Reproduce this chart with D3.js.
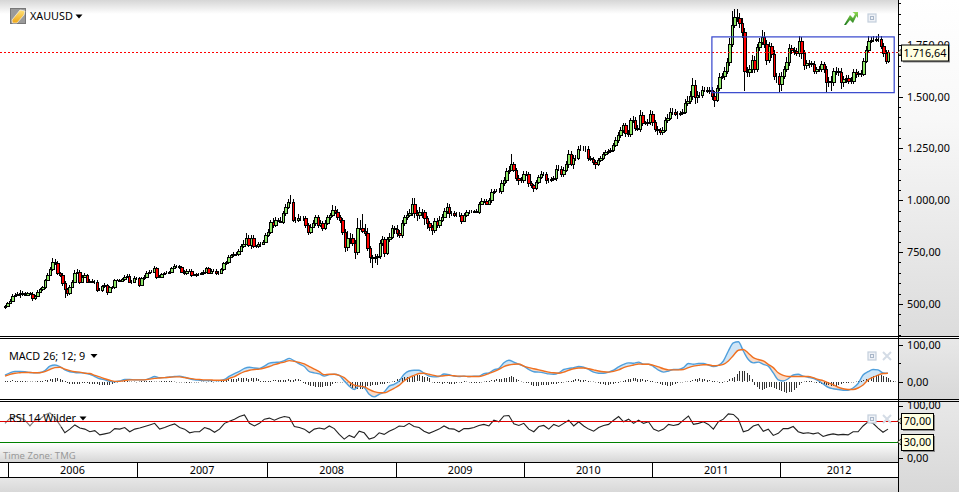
<!DOCTYPE html>
<html>
<head>
<meta charset="utf-8">
<title>XAUUSD</title>
<script src="https://cdn.jsdelivr.net/npm/d3@7"></script>
<style>
html, body { margin: 0; padding: 0; background: #fff; }
svg { display: block; }
text { font-family: "Noto Sans", Tahoma, sans-serif; font-size: 10.8px; fill: #000; }
</style>
</head>
<body>
<div id="chart"></div>
<script>
'use strict'
/* Weekly candles */
var closes = [
490,503,516,538,545,548,554,548,543,551,548,527,538,559,570,580,615,639,666,703,698,647,639,599,570,554,583,607,650,655,
607,631,639,607,612,607,607,567,567,586,591,559,580,580,615,615,612,618,631,636,607,607,626,623,591,623,631,650,655,655,
671,631,631,644,647,650,654,671,682,682,676,655,647,660,660,639,639,642,644,647,655,671,650,660,660,647,650,666,695,700,
727,734,740,740,756,778,791,820,783,820,778,778,788,790,800,832,848,896,880,904,901,896,936,965,992,992,904,907,912,912,
912,880,848,872,891,917,880,891,864,891,917,928,955,944,920,904,848,776,816,820,792,752,864,864,853,843,768,724,720,724,
731,792,811,747,811,824,864,859,840,832,888,917,928,936,984,936,928,944,944,912,888,872,856,901,880,907,920,949,968,936,
936,928,931,928,901,928,944,944,944,947,944,984,997,997,984,1000,1040,1045,1045,1045,1083,1096,1141,1147,1173,1147,1109,1100,1096,1128,
1128,1083,1072,1061,1088,1112,1125,1125,1096,1100,1104,1109,1152,1152,1125,1147,1173,1224,1173,1205,1205,1249,1249,1249,1249,1205,1200,1184,1173,1192,
1205,1221,1232,1237,1240,1265,1289,1313,1340,1361,1324,1321,1385,1388,1350,1345,1409,1372,1372,1377,1417,1377,1345,1337,1329,1340,1385,1398,1425,1425,
1417,1417,1420,1425,1468,1481,1505,1558,1497,1510,1510,1532,1532,1529,1532,1505,1484,1542,1593,1597,1622,1665,1753,1846,1882,1879,1853,1810,1625,1617,
1633,1677,1633,1737,1761,1789,1753,1677,1745,1705,1597,1597,1561,1601,1633,1665,1734,1725,1718,1709,1770,1709,1654,1661,1661,1657,1625,1633,1633,1657,
1633,1569,1577,1569,1622,1625,1617,1569,1585,1590,1577,1577,1617,1609,1612,1609,1673,1725,1770,1773,1773,1778,1778,1745,1709,1673,1716
];
var wickUp = [
6,5,6,8,7,8,14,6,7,8,7,8,6,8,6,7,6,8,10,16,12,8,8,10,10,8,9,9,12,14,
10,8,8,7,9,8,7,8,8,7,8,7,8,7,6,6,6,8,7,10,8,6,9,6,8,7,7,8,7,8,
11,7,8,6,6,7,6,5,8,6,7,7,8,6,7,8,7,6,6,7,6,8,9,8,7,7,8,6,8,8,
7,6,8,9,8,10,16,20,12,10,14,8,12,10,8,8,12,10,16,14,12,16,10,18,14,32,16,14,20,14,
14,12,10,12,14,12,10,14,8,12,14,12,20,16,14,10,10,14,36,22,18,16,51,40,68,30,22,12,14,16,
10,14,18,12,14,16,18,14,20,14,16,14,18,22,28,26,16,24,14,10,12,14,10,12,14,16,12,14,18,12,
12,10,12,10,8,10,10,8,10,8,10,8,12,10,8,10,14,10,8,12,16,18,14,18,52,12,10,12,10,14,
12,10,10,8,10,12,14,10,12,8,10,10,16,20,12,12,14,20,14,14,12,14,16,12,14,14,10,8,10,10,
10,10,8,10,10,12,14,16,12,14,12,16,14,20,12,12,26,16,12,14,16,14,10,12,10,14,16,18,20,18,
14,12,12,16,18,20,24,30,24,18,12,20,16,14,16,14,20,14,20,18,22,20,28,68,40,40,26,24,20,18,
20,22,18,16,22,30,24,20,16,14,18,16,18,20,16,24,18,16,14,16,24,16,14,16,14,12,14,12,14,16,
12,14,16,24,18,16,14,20,14,16,14,16,16,14,12,14,14,20,22,14,18,16,22,14,14,16,10
];
var wickDown = [
11,5,6,5,7,7,20,8,7,6,7,14,9,6,7,8,7,6,6,8,10,8,9,12,40,16,9,8,8,8,
12,7,8,8,6,7,10,8,7,8,9,14,8,7,6,6,8,6,6,7,8,10,8,9,8,7,7,6,6,7,
8,12,7,8,6,5,6,6,5,7,6,6,7,8,6,8,6,7,7,6,6,6,8,6,7,7,6,6,7,7,
8,6,7,7,8,6,7,9,8,16,8,8,10,12,8,8,10,10,12,10,8,8,12,10,8,8,10,14,10,12,
12,14,16,10,8,14,12,10,14,8,10,10,10,12,14,12,16,24,20,28,14,36,14,10,12,16,14,28,48,22,
35,14,12,20,12,14,10,24,16,14,12,10,10,8,12,24,28,18,30,30,26,20,24,16,14,12,10,8,14,20,
10,8,10,10,14,8,8,10,6,8,8,10,6,8,8,8,12,8,6,10,14,12,14,16,8,10,16,26,14,12,
12,18,14,20,14,12,10,8,16,12,10,10,14,10,12,14,12,16,10,20,14,12,10,10,16,14,10,12,20,8,
8,10,10,8,8,8,10,12,12,14,18,14,18,10,16,12,14,12,10,12,14,18,16,22,14,12,10,12,10,14,
12,24,12,10,10,14,16,22,32,26,16,18,12,14,16,22,34,12,14,10,16,14,18,12,14,18,20,26,99,24,
22,20,18,14,16,14,20,24,16,20,18,30,40,36,14,12,16,20,16,14,20,26,24,20,22,14,16,14,12,16,
18,48,22,43,18,16,20,30,24,20,16,16,14,18,16,14,12,10,14,10,12,12,16,14,16,14,10
];
var firstOpen = 485;
var lastPrice = 1716.64;
var boxPrices = [1519, 1788];
var boxWeeks = [285, 358.5];

/* MACD lines, one reading every two weeks */
var macdLine = [
18,24,28,28,27,25,24,25,30,42,45,41,32,27,25,24,23,20,14,8,5,1,0,2,6,6,5,5,5,9,14,11,11,13,14,15,12,8,5,4,3,3,3,3,6,15,22,28,36,39,37,36,42,50,52,53,57,63,56,48,41,27,24,21,
15,19,20,17,2,-12,-21,-12,-16,-34,-41,-34,-28,-12,-7,2,20,29,31,31,23,15,13,14,21,19,15,14,15,14,15,
15,22,24,32,36,51,58,53,47,42,33,27,26,24,21,20,24,33,36,38,41,39,33,26,23,23,26,31,40,47,51,50,53,
47,47,41,31,26,29,33,33,38,49,47,49,49,45,41,44,56,83,105,108,83,60,51,53,47,42,24,5,2,8,18,20,15,
12,9,3,-6,-15,-19,-21,-23,-23,-17,-5,18,27,33,32,24,23
];
var macdSignal = [
15,20,23,24,25,25,24,24,27,33,38,39,34,30,27,26,23,22,17,13,8,4,1,1,3,5,5,5,5,7,9,10,11,12,13,13,11,9,7,6,5,5,4,4,4,9,14,21,27,31,33,34,37,41,46,50,53,57,55,52,48,41,34,27,
19,20,20,17,11,-1,-9,-12,-14,-21,-27,-30,-30,-25,-18,-10,2,11,17,22,23,20,17,15,16,17,16,15,15,14,14,
14,17,22,27,33,41,45,47,48,42,38,35,32,29,26,24,23,26,31,35,37,37,35,32,29,27,26,28,32,38,42,45,48,
47,47,44,40,35,32,32,32,33,38,42,44,46,46,43,44,47,56,71,85,87,77,65,60,56,47,38,24,17,14,14,14,14,
14,11,6,3,-3,-8,-15,-19,-21,-21,-17,-9,5,12,18,22,23
];
/* MACD histogram, one bar per week */
var macdHist = [
3,3,3,4,3,3,3,2,2,1,1,1,1,2,2,3,4,5,6,8,10,9,8,5,3,-2,-5,-6,-6,-5,-5,-4,-4,-4,-5,-5,-6,-6,-7,-7,-8,-8,-7,-5,-3,-1,
1,1,2,2,1,1,1,0,1,2,2,3,3,2,1,1,1,2,2,3,3,2,1,0,-1,-1,-1,-2,-2,-1,-1,0,0,1,1,0,1,2,0,1,1,2,
3,5,6,7,8,8,9,10,10,9,8,9,11,
9,6,3,2,2,3,3,4,4,5,5,5,5,6,5,5,6,6,4,
-4,-6,-8,-10,-12,-14,-14,-13,-13,-12,-12,-10,-6,-3,-1,-1,0,1,0,-10,-16,-18,-20,-19,-18,-14,-12,-10,-9,-8,-7,-6,-5,-5,-3,-1,1,3,
6,8,10,12,13,14,15,16,17,17,16,14,12,10,-1,-2,-3,-4,-5,-3,-2,-5,-6,-5,-3,-1,-2,2,1,-1,-2,-3,-3,-2,-1,
1,3,3,4,5,6,7,8,10,11,13,15,14,8,4,1,-1,-2,-4,-7,-10,-12,-11,-9,-8,-7,-7,-6,-6,-5,-4,-3,-1,
1,2,3,5,6,6,5,5,4,2,1,1,0,-3,-5,-6,-7,-7,-6,-5,-4,-2,1,3,5,7,8,9,9,8,7,6,5,4,3,2,
-1,-2,-5,-8,-9,-11,-10,-9,-6,-3,-1,0,1,1,2,4,6,8,9,8,6,5,4,3,2,1,-2,-4,1,
3,6,9,14,20,28,29,28,24,17,8,-8,-14,-19,-22,-20,-17,-14,-14,-16,-20,-22,-24,-28,-30,-28,-26,-22,-15,-8,-3,1,2,3,2,-1,-2,-4,
-6,-7,-8,-9,-10,-12,-14,-8,-6,-4,-3,-2,-1,-1,1,2,3,4,6,8,12,15,18,19,18,16,14,10,5,3,1
];
/* RSI 14, one reading every two weeks */
var rsiValues = [
66,76,80,77,72,61,72,74,82,86,77,63,48,55,63,57,55,50,52,44,46,48,56,55,58,50,55,57,60,63,66,55,58,62,65,58,55,48,50,50,58,55,49,55,66,70,74,79,82,66,61,66,74,76,72,76,79,77,60,58,55,48,55,57,
55,61,56,45,36,43,39,51,48,36,39,48,45,51,55,61,60,66,60,58,51,47,51,55,61,56,55,50,56,56,58,
62,64,61,72,69,80,81,65,62,66,55,50,60,62,55,64,60,66,72,61,69,61,55,51,58,62,64,72,79,69,74,66,72,
66,69,55,51,55,64,62,64,72,80,64,66,69,64,55,69,74,84,83,74,50,53,61,64,51,55,43,47,56,56,60,50,47,
48,46,48,41,44,46,44,45,44,50,50,61,69,66,57,49,55
];
var rsiLevels = [30, 70];

var yearLabels = ['2006', '2007', '2008', '2009', '2010', '2011', '2012'];
var yearStarts = [1.2, 53.2, 105.7, 157.7, 209.3, 261, 312.6];
var priceMajor = [500, 750, 1000, 1250, 1500, 1750];
var priceMinor = d3.range(350, 2000, 50);

/* Medidas */
var w = 959;
var h = 492;
var plotRight = 898;

var priceFmt = d3.formatLocale({decimal: ',', thousands: '.', grouping: [3], currency: ['', '']}).format(',.2f');

var x = d3.scaleLinear().domain([0, closes.length - 1]).range([5, 888]);
var yPrice = d3.scaleLinear().domain([345, 1966]).range([336, 0]);
var yMacd = d3.scaleLinear().domain([0, 100]).range([381.7, 344.7]);
var yRsi = d3.scaleLinear().domain([0, 100]).range([458, 405.5]);
// lineas muestreadas cada dos semanas
var xMacd = d3.scaleLinear().domain([0, macdLine.length - 1]).range([5, 888]);
var xRsi = d3.scaleLinear().domain([0, rsiValues.length - 1]).range([5, 888]);

var svg = d3.select('#chart').append('svg').attr('width', w).attr('height', h);
var defs = svg.append('defs');

function gradient(id, stops) {
	var g = defs.append('linearGradient').attr('id', id)
		.attr('x1', 0).attr('y1', 0).attr('x2', 0).attr('y2', 1);
	stops.forEach((s) => {
		g.append('stop').attr('offset', s[0]).attr('stop-color', s[1]);
	});
}
gradient('gTop', [[0, '#d6d6d6'], [1, '#ffffff']]);
gradient('gBottom', [[0, '#ffffff'], [1, '#d6d6d6']]);
gradient('gFoot', [[0, '#e8e8e8'], [1, '#d8d8d8']]);
gradient('gAxisMain', [[0, '#ffffff'], [0.35, '#f8f8f8'], [1, '#dcdcdc']]);
gradient('gAxisLow', [[0, '#e8e8e8'], [1, '#d8d8d8']]);
gradient('gArrow', [[0, '#8fd850'], [1, '#1e7a1e']]);
gradient('gGold', [[0, '#ffe27a'], [1, '#eea514']]);

function box(px, py, pw, ph, fill) {
	return svg.append('rect').attr('x', px).attr('y', py).attr('width', pw).attr('height', ph).attr('fill', fill);
}

/* Fondos */
box(0, 0, w, h, '#fff');
box(0, 0, plotRight, 14, 'url(#gTop)');
box(0, 443, plotRight, 19, 'url(#gBottom)');
box(0, 462, plotRight, 15, '#fff');
box(0, 477, plotRight, 15, 'url(#gFoot)');
box(plotRight, 0, w - plotRight, 337, 'url(#gAxisMain)');
box(plotRight, 338, w - plotRight, 61, 'url(#gAxisLow)');
box(plotRight, 400, w - plotRight, 92, 'url(#gAxisLow)');

/* Velas */
var plot = svg.append('g').attr('shape-rendering', 'crispEdges');
closes.forEach((c, i) => {
	var o = i === 0 ? firstOpen : closes[i - 1];
	var px = Math.round(x(i));
	var hi = Math.max(o, c) + wickUp[i];
	var lo = Math.min(o, c) - wickDown[i];
	plot.append('line')
		.attr('x1', px + 0.5).attr('x2', px + 0.5)
		.attr('y1', yPrice(hi)).attr('y2', yPrice(lo))
		.attr('stroke', '#000');
});
closes.forEach((c, i) => {
	var o = i === 0 ? firstOpen : closes[i - 1];
	var px = Math.round(x(i));
	var next = Math.round(x(i + 1));
	var top = Math.round(yPrice(Math.max(o, c)));
	var bot = Math.round(yPrice(Math.min(o, c)));
	// el cuerpo llena hasta la vela siguiente, 2 o 3 pixeles segun redondeo
	plot.append('rect')
		.attr('x', px - 0.5).attr('width', next - px)
		.attr('y', top + 0.5).attr('height', Math.max(bot - top, 0))
		.attr('fill', c >= o ? '#8ee868' : '#ff0000')
		.attr('stroke', '#000');
});

/* Linea de ultimo precio y rango */
svg.append('line')
	.attr('x1', 0).attr('x2', plotRight)
	.attr('y1', Math.round(yPrice(lastPrice)) + 0.5).attr('y2', Math.round(yPrice(lastPrice)) + 0.5)
	.attr('stroke', '#f00').attr('stroke-width', 1).attr('stroke-dasharray', '2,2')
	.attr('shape-rendering', 'crispEdges');
svg.append('rect')
	.attr('x', x(boxWeeks[0])).attr('y', yPrice(boxPrices[1]))
	.attr('width', x(boxWeeks[1]) - x(boxWeeks[0]))
	.attr('height', yPrice(boxPrices[0]) - yPrice(boxPrices[1]))
	.attr('fill', 'none').attr('stroke', '#3344cc').attr('stroke-width', 1.2);

/* MACD */
var macdRows = macdLine.map((d, i) => [i, d, macdSignal[i]]);
var areaUp = d3.area().curve(d3.curveMonotoneX)
	.x((d) => xMacd(d[0])).y0((d) => yMacd(d[2])).y1((d) => yMacd(Math.max(d[1], d[2])));
var areaDown = d3.area().curve(d3.curveMonotoneX)
	.x((d) => xMacd(d[0])).y0((d) => yMacd(d[2])).y1((d) => yMacd(Math.min(d[1], d[2])));
svg.append('path').attr('d', areaUp(macdRows)).attr('fill', '#cfe5f6');
svg.append('path').attr('d', areaDown(macdRows)).attr('fill', '#fbdcc8');

svg.append('g').attr('shape-rendering', 'crispEdges')
	.selectAll('rect')
	.data(macdHist)
	.enter()
	.append('rect')
	.attr('x', (d, i) => Math.round(x(i)))
	.attr('width', 1)
	.attr('y', (d) => Math.round(yMacd(Math.max(d, 0))))
	.attr('height', (d) => Math.max(1, Math.round(Math.abs(yMacd(d) - yMacd(0)))))
	.attr('fill', (d) => Math.abs(d) < 2 ? '#aaa' : '#333');

var macdPath = d3.line().curve(d3.curveMonotoneX).x((d, i) => xMacd(i)).y((d) => yMacd(d));
svg.append('path').attr('d', macdPath(macdLine))
	.attr('fill', 'none').attr('stroke', '#4f9fdc').attr('stroke-width', 1.4);
svg.append('path').attr('d', macdPath(macdSignal))
	.attr('fill', 'none').attr('stroke', '#f07020').attr('stroke-width', 1.4);

/* RSI */
var rsiPath = d3.line().x((d, i) => xRsi(i)).y((d) => yRsi(d));
svg.append('path').attr('d', rsiPath(rsiValues))
	.attr('fill', 'none').attr('stroke', '#222').attr('stroke-width', 1.1);
box(0, 410, 62, 17, 'rgba(255,255,255,0.4)');
svg.selectAll('.nivel')
	.data(rsiLevels)
	.enter()
	.append('line')
	.attr('class', 'nivel')
	.attr('x1', 0).attr('x2', plotRight)
	.attr('y1', (d) => Math.round(yRsi(d)) + 0.5).attr('y2', (d) => Math.round(yRsi(d)) + 0.5)
	.attr('stroke', (d) => d === 70 ? '#dd0000' : '#008000')
	.attr('shape-rendering', 'crispEdges');

/* Ejes */
function drawAxis(scale, major, minor) {
	svg.append('g').attr('transform', 'translate(' + plotRight + ',0)')
		.call(d3.axisRight(scale).tickValues(minor).tickSize(3).tickFormat(''))
		.call((g) => g.select('.domain').remove())
		.attr('shape-rendering', 'crispEdges');
	svg.append('g').attr('transform', 'translate(' + plotRight + ',0)')
		.call(d3.axisRight(scale).tickValues(major).tickSize(5).tickPadding(4).tickFormat(priceFmt))
		.call((g) => g.select('.domain').remove())
		.call((g) => g.selectAll('line').attr('shape-rendering', 'crispEdges'));
}
drawAxis(yPrice, priceMajor, priceMinor);
drawAxis(yMacd, [0, 100], [50]);
drawAxis(yRsi, [0, 100], []);

/* Separadores */
[336.5, 338.5, 399.5, 401.5, 462.5, 477.5].forEach((py, i) => {
	svg.append('line')
		.attr('x1', 0).attr('x2', i < 4 ? w : plotRight)
		.attr('y1', py).attr('y2', py)
		.attr('stroke', '#000').attr('stroke-width', 1);
});
svg.append('line').attr('x1', plotRight + 0.5).attr('x2', plotRight + 0.5).attr('y1', 0).attr('y2', h).attr('stroke', '#000');

/* Eje de tiempo */
svg.selectAll('.anio-linea')
	.data(yearStarts)
	.enter()
	.append('line')
	.attr('class', 'anio-linea')
	.attr('x1', (d) => Math.round(x(d)) + 0.5).attr('x2', (d) => Math.round(x(d)) + 0.5)
	.attr('y1', 462).attr('y2', 477)
	.attr('stroke', '#000');
svg.selectAll('.anio')
	.data(yearLabels)
	.enter()
	.append('text')
	.attr('class', 'anio')
	.attr('x', (d, i) => (x(yearStarts[i]) + (i < 6 ? x(yearStarts[i + 1]) : plotRight)) / 2)
	.attr('y', 473.5)
	.attr('text-anchor', 'middle')
	.text((d) => d);

/* Titulos */
function label(txt, px, py, color) {
	return svg.append('text').attr('x', px).attr('y', py).style('fill', color || '#000').text(txt);
}
function caret(px, py) {
	svg.append('path').attr('d', 'M' + (px - 3.5) + ',' + py + 'h7l-3.5,4z').attr('fill', '#000');
}
label('XAUUSD', 30, 20);
caret(79, 14.5);
label('MACD 26; 12; 9', 9, 360);
caret(94, 354);
label('RSI 14 Wilder', 9, 422);
caret(83, 416.5);
label('Time Zone: TMG', 3, 459, '#999').style('font-size', '9.5px');

/* Iconos */
box(10.5, 8.5, 15, 15, '#9a9a9a').attr('stroke', '#777');
svg.append('path').attr('d', 'M12,20 L20,10 L25,11 L24,15 L17,23 L12.5,23 Z').attr('fill', 'url(#gGold)').attr('stroke', '#fff').attr('stroke-width', 0.6);
svg.append('path').attr('d', 'M844,25 L850,15 L853,18 L855,14 L852.5,12 L858,12 L858,18 L856.5,16 L853,23 L850,20 L846,25 Z').attr('fill', 'url(#gArrow)');

function restoreIcon(px, py) {
	svg.append('rect').attr('x', px).attr('y', py).attr('width', 8).attr('height', 8)
		.attr('fill', '#eef1f6').attr('stroke', '#c4cfdc').attr('stroke-width', 1.2);
	svg.append('rect').attr('x', px + 2.5).attr('y', py + 2.5).attr('width', 3).attr('height', 3)
		.attr('fill', 'none').attr('stroke', '#a8b6c8');
}
function closeIcon(px, py) {
	svg.append('path').attr('d', 'M' + px + ',' + py + 'l8,8m0,-8l-8,8')
		.attr('stroke', '#d4dce6').attr('stroke-width', 2).attr('fill', 'none');
}
restoreIcon(868, 14);
restoreIcon(868, 352);
closeIcon(883, 352);
restoreIcon(868, 415);
closeIcon(883, 415);

/* Etiquetas de valor */
function callout(txt, py, bw) {
	var left = 901;
	var bh = 16;
	box(left + 2, py - bh / 2 + 2, bw, bh, '#8a8a8a');
	box(left + 0.5, py - bh / 2 + 0.5, bw, bh, '#ffffe1').attr('stroke', '#000');
	svg.append('path')
		.attr('d', 'M' + left + ',' + (py - 3) + 'l-3.5,3l3.5,3z')
		.attr('fill', '#ffffe1').attr('stroke', '#000').attr('stroke-width', 0.7);
	svg.append('text').attr('x', left + bw / 2 + 0.5).attr('y', py + 4).attr('text-anchor', 'middle').text(txt);
}
callout(priceFmt(lastPrice), 52.5, 47);
callout(priceFmt(70), 421, 32);
callout(priceFmt(30), 442, 32);
</script>
</body>
</html>
